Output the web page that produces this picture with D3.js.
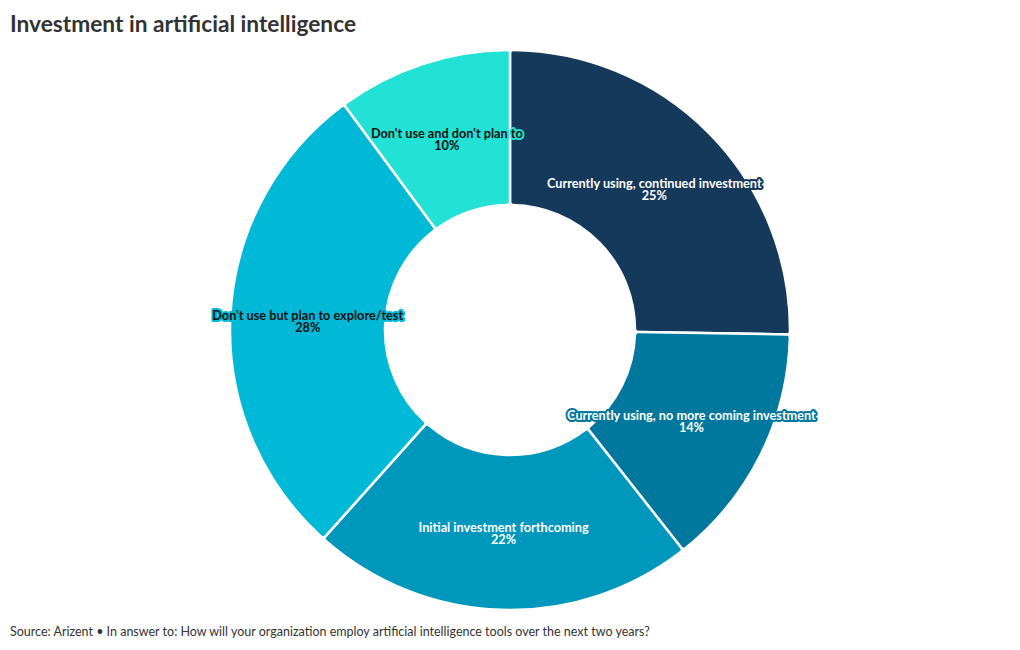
<!DOCTYPE html>
<html><head><meta charset="utf-8">
<script src="https://cdn.jsdelivr.net/npm/d3@7"></script>
<style>
body{margin:0;background:#fff;font-family:Lato,"Open Sans",sans-serif;}
</style></head>
<body>
<svg id="c" width="1020" height="650"></svg>
<script>
const categories = ["Currently using, continued investment","Currently using, no more coming investment","Initial investment forthcoming","Don't use but plan to explore/test","Don't use and don't plan to"];
const values = [25, 14, 22, 28, 10];
const colors = ["#15395b","#00789d","#0097bc","#00b9d6","#22e1d5"];
const textColors = ["#ffffff","#ffffff","#ffffff","#111111","#111111"];

const svg = d3.select("#c");
svg.append("text").attr("x",10).attr("y",32).attr("font-family","Lato").attr("font-weight","bold")
  .attr("font-size",22.7).attr("fill","#333").text("Investment in artificial intelligence");
svg.append("text").attr("x",10).attr("y",636).attr("font-family","Lato")
  .attr("font-size",12.5).attr("fill","#333")
  .text("Source: Arizent \u2022 In answer to: How will your organization employ artificial intelligence tools over the next two years?");

const cx=510, cy=330, R=280, r=125;
const data = categories.map((c,i)=>({cat:c,val:values[i],color:colors[i],tc:textColors[i]}));
const pie = d3.pie().value(d=>d.val).sort(null);
const arc = d3.arc().innerRadius(r).outerRadius(R).cornerRadius(3);
const g = svg.append("g").attr("transform",`translate(${cx},${cy})`);
const arcs = pie(data);
g.selectAll("path").data(arcs).join("path").attr("d",arc)
  .attr("fill",d=>d.data.color).attr("stroke","#fff").attr("stroke-width",2.5);
const lab = g.selectAll("text.l").data(arcs).join("text").attr("class","l")
  .attr("transform",d=>{const c=arc.centroid(d);return `translate(${c[0]},${c[1]})`;})
  .attr("text-anchor","middle").attr("font-family","Lato").attr("font-weight","bold").attr("font-size",12.7)
  .attr("fill",d=>d.data.tc).attr("stroke",d=>d.data.color).attr("stroke-width",4)
  .attr("stroke-linejoin","round").attr("paint-order","stroke");
lab.append("tspan").attr("x",0).attr("y",0).text(d=>d.data.cat);
lab.append("tspan").attr("x",0).attr("y",12).text(d=>d.data.val+"%");
</script>
</body></html>
